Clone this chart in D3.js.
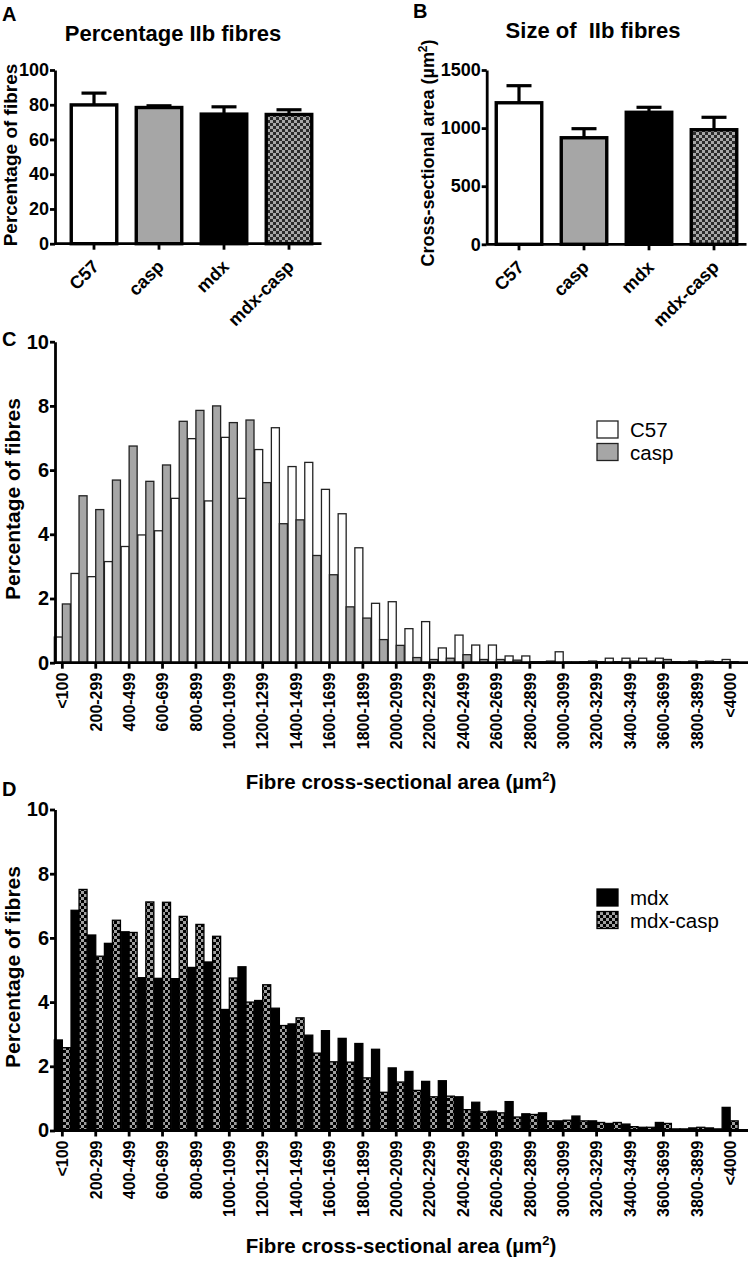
<!DOCTYPE html>
<html><head><meta charset="utf-8">
<script src="https://cdn.jsdelivr.net/npm/d3@7"></script>
<style>
body{margin:0;background:#fff}
svg{display:block}
text{font-family:"Liberation Sans",Arial,Helvetica,sans-serif;white-space:pre}
</style>
</head><body>
<svg id="chart" width="749" height="1262"></svg>
<script>
// ---------- DATA ----------
const groups = ["C57", "casp", "mdx", "mdx-casp"];
const pctMean = [79.9, 78.4, 74.6, 74.4];
const pctSem  = [6.8, 1.0, 4.2, 2.7];
const sizeMean = [1218, 917, 1136, 986];
const sizeSem  = [147, 78, 43, 107];
const pctTicks = [0, 20, 40, 60, 80, 100];
const sizeTicks = [0, 500, 1000, 1500];

const categories = ["<100","100-199","200-299","300-399","400-499","500-599","600-699","700-799","800-899","900-999",
  "1000-1099","1100-1199","1200-1299","1300-1399","1400-1499","1500-1599","1600-1699","1700-1799","1800-1899","1900-1999",
  "2000-2099","2100-2199","2200-2299","2300-2399","2400-2499","2500-2599","2600-2699","2700-2799","2800-2899","2900-2999",
  "3000-3099","3100-3199","3200-3299","3300-3399","3400-3499","3500-3599","3600-3699","3700-3799","3800-3899","3900-3999","<4000"];
const tickLabels = ["<100","200-299","400-499","600-699","800-899","1000-1099","1200-1299","1400-1499","1600-1699","1800-1899",
  "2000-2099","2200-2299","2400-2499","2600-2699","2800-2899","3000-3099","3200-3299","3400-3499","3600-3699","3800-3899","<4000"];
const histTicks = [0, 2, 4, 6, 8, 10];

const c57Hist  = [0.80,2.78,2.68,3.15,3.62,3.98,4.11,5.12,6.98,5.04,7.02,5.12,6.64,7.32,6.11,6.24,5.40,4.64,3.58,1.85,
  1.90,1.06,1.28,0.46,0.86,0.55,0.55,0.21,0.21,0.03,0.34,0.02,0.05,0.14,0.14,0.14,0.14,0.03,0.05,0.05,0.10];
const caspHist = [1.83,5.20,4.77,5.69,6.75,5.65,6.16,7.52,7.86,8.00,7.48,7.56,5.61,4.33,4.45,3.34,2.74,1.74,1.39,0.72,
  0.54,0.16,0.10,0.14,0.25,0.10,0.10,0.08,0.03,0.05,0.02,0.03,0.03,0.03,0.05,0.05,0.10,0.02,0.03,0.03,0.03];
const mdxHist  = [2.82,6.86,6.09,5.83,6.19,4.76,4.74,4.73,5.08,5.25,3.77,5.10,4.05,3.81,3.32,2.97,3.11,2.87,2.71,2.53,
  1.95,1.84,1.53,1.55,1.05,0.88,0.60,0.90,0.52,0.55,0.30,0.45,0.30,0.22,0.20,0.10,0.25,0.05,0.08,0.08,0.72];
const mdxCaspHist = [2.58,7.51,5.43,6.55,6.17,7.12,7.11,6.67,6.42,6.05,4.75,4.00,4.54,3.27,3.51,2.41,2.14,2.13,1.64,1.19,
  1.51,1.25,1.05,1.07,0.65,0.58,0.55,0.42,0.50,0.30,0.32,0.30,0.25,0.25,0.12,0.10,0.22,0.05,0.10,0.05,0.30];

// ---------- SETUP ----------
const svg = d3.select("#chart");
const defs = svg.append("defs");
function checker(id, cell, dark, light){
  const p = defs.append("pattern").attr("id", id).attr("patternUnits","userSpaceOnUse")
    .attr("width", cell*2).attr("height", cell*2);
  p.append("rect").attr("width", cell*2).attr("height", cell*2).attr("fill", dark);
  p.append("rect").attr("width", cell).attr("height", cell).attr("fill", light);
  p.append("rect").attr("x", cell).attr("y", cell).attr("width", cell).attr("height", cell).attr("fill", light);
}
checker("chkAB", 3, "#2b2b2b", "#a8a8a8");
checker("chkD", 3, "#000000", "#a0a0a0");
const groupFill = ["#ffffff", "#a6a6a6", "#000000", "url(#chkAB)"];

function styleAxis(g, w){
  g.selectAll("path").attr("stroke","#000").attr("stroke-width", w);
  g.selectAll("line").attr("stroke","#000").attr("stroke-width", w);
  g.selectAll("text").attr("fill","#000").attr("font-weight","bold");
}

function text(x, y, s, size, weight, anchor){
  return svg.append("text").attr("x", x).attr("y", y).text(s)
    .attr("font-size", size).attr("font-weight", weight || "bold")
    .attr("text-anchor", anchor || "start").attr("fill", "#000");
}

// ---------- BAR PANELS (A, B) ----------
function barPanel(o){
  const y = d3.scaleLinear().domain([0, o.max]).range([o.y0, o.y1]);
  const x = d3.scaleBand().domain(groups).range([o.bx0, o.bx1]).paddingInner(0.3).paddingOuter(0.15);
  const g = svg.append("g");
  g.selectAll("rect.bar").data(groups).join("rect")
    .attr("x", d => x(d)).attr("width", x.bandwidth())
    .attr("y", (d,i) => y(o.mean[i])).attr("height", (d,i) => o.y0 - y(o.mean[i]))
    .attr("fill", (d,i) => groupFill[i]).attr("stroke", "#000").attr("stroke-width", 3.4);
  g.selectAll("line.err").data(groups).join("line")
    .attr("x1", d => x(d) + x.bandwidth()/2).attr("x2", d => x(d) + x.bandwidth()/2)
    .attr("y1", (d,i) => y(o.mean[i])).attr("y2", (d,i) => y(o.mean[i] + o.sem[i]))
    .attr("stroke","#000").attr("stroke-width", 3.2);
  g.selectAll("line.cap").data(groups).join("line")
    .attr("x1", d => x(d) + x.bandwidth()/2 - 12.5).attr("x2", d => x(d) + x.bandwidth()/2 + 12.5)
    .attr("y1", (d,i) => y(o.mean[i] + o.sem[i])).attr("y2", (d,i) => y(o.mean[i] + o.sem[i]))
    .attr("stroke","#000").attr("stroke-width", 3.2);
  const ya = svg.append("g").attr("transform", `translate(${o.ax},0)`)
    .call(d3.axisLeft(y).tickValues(o.ticks).tickFormat(d3.format("d")).tickSize(5).tickSizeOuter(0).tickPadding(1));
  styleAxis(ya, 2.8);
  ya.selectAll("text").attr("font-size", 18);
  const xa = svg.append("g").attr("transform", `translate(0,${o.y0})`)
    .call(d3.axisBottom(x).tickSize(6).tickSizeOuter(0));
  xa.select("path.domain").remove();
  svg.append("line").attr("x1", o.ax).attr("x2", o.bx1).attr("y1", o.y0).attr("y2", o.y0)
    .attr("stroke","#000").attr("stroke-width", 2.8);
  styleAxis(xa, 2.8);
  xa.selectAll("text").attr("font-size", 18).attr("text-anchor","end")
    .attr("y", 0).attr("x", 0).attr("dy", 0)
    .attr("transform", "translate(6,24) rotate(-45)");
  text(o.titleX, o.titleY, o.title, 22, "bold", "middle");
  const yl = svg.append("text").attr("transform", `translate(${o.ylX},${o.ylY}) rotate(-90)`)
    .attr("text-anchor","middle").attr("font-size", o.ylSize).attr("font-weight","bold");
  yl.append("tspan").text(o.ylabel);
  if (o.sup){
    yl.append("tspan").text("2").attr("font-size", 12).attr("dy", -7);
    yl.append("tspan").text(")").attr("dy", 7);
  }
  text(o.letterX, o.letterY, o.letter, 20, "bold");
}

barPanel({max:100, ticks:pctTicks, mean:pctMean, sem:pctSem, y0:243.7, y1:70, ax:55, bx0:61.5, bx1:321.5,
  title:"Percentage IIb fibres", titleX:173, titleY:41, ylabel:"Percentage of fibres", ylSize:19, ylX:17, ylY:155,
  letter:"A", letterX:2, letterY:21});
barPanel({max:1500, ticks:sizeTicks, mean:sizeMean, sem:sizeSem, y0:244.3, y1:70, ax:486.7, bx0:486.5, bx1:746.5,
  title:"Size of  IIb fibres", titleX:593, titleY:38, ylabel:"Cross-sectional area (\u00b5m", sup:true, ylSize:18, ylX:434, ylY:153,
  letter:"B", letterX:413, letterY:18});

// ---------- HISTOGRAM PANELS (C, D) ----------
function histPanel(o){
  const y = d3.scaleLinear().domain([0, 10]).range([o.y0, o.y0 - 321]);
  const x = d3.scaleBand().domain(categories).range([54, 738.5]).paddingInner(0.04).paddingOuter(0.02);
  const xs = d3.scaleBand().domain([0,1]).range([0, x.bandwidth()]);
  const g = svg.append("g");
  o.series.forEach((s, si) => {
    g.selectAll(null).data(categories).join("rect")
      .attr("x", (d) => x(d) + xs(si)).attr("width", xs.bandwidth())
      .attr("y", (d,i) => y(s[i])).attr("height", (d,i) => o.y0 - y(s[i]))
      .attr("fill", o.fills[si]).attr("stroke", o.strokes[si]).attr("stroke-width", 1.3);
  });
  const ya = svg.append("g").attr("transform", `translate(55,0)`)
    .call(d3.axisLeft(y).tickValues(histTicks).tickSize(5).tickSizeOuter(0).tickPadding(1));
  styleAxis(ya, 2.8);
  ya.selectAll("text").attr("font-size", 20);
  const xa = svg.append("g").attr("transform", `translate(0,${o.y0})`)
    .call(d3.axisBottom(x).tickValues(categories.filter(c => tickLabels.includes(c))).tickSize(6).tickSizeOuter(0));
  xa.select("path.domain").remove();
  svg.append("line").attr("x1", 55).attr("x2", 748).attr("y1", o.y0).attr("y2", o.y0)
    .attr("stroke","#000").attr("stroke-width", 2.8);
  styleAxis(xa, 2.8);
  xa.selectAll("text").attr("font-size", 16).attr("text-anchor","end")
    .attr("y", 0).attr("x", 0).attr("dy", "0.36em")
    .attr("transform", "translate(0,10) rotate(-90)");
  svg.append("text").attr("transform", `translate(20,${o.ylY}) rotate(-90)`)
    .attr("text-anchor","middle").attr("font-size", 21).attr("font-weight","bold").text("Percentage of fibres");
  const xt = svg.append("text").attr("x", 401).attr("y", o.xtY).attr("text-anchor","middle")
    .attr("font-size", 20.5).attr("font-weight","bold");
  xt.append("tspan").text("Fibre cross-sectional area (\u00b5m");
  xt.append("tspan").text("2").attr("font-size", 13).attr("dy", -8);
  xt.append("tspan").text(")").attr("dy", 8);
  text(2, o.letterY, o.letter, 20, "bold");
  o.legend.forEach((name, i) => {
    svg.append("rect").attr("x", 597).attr("y", o.legY + i*22.5).attr("width", 21).attr("height", 17)
      .attr("fill", o.fills[i]).attr("stroke", o.strokes[i]).attr("stroke-width", 1.3);
    text(630, o.legY + i*22.5 + 16, name, 20.5, "normal");
  });
}

histPanel({y0:662.7, series:[c57Hist, caspHist], fills:["#ffffff","#a6a6a6"], strokes:["#222","#222"],
  ylY:499, xtY:789, letter:"C", letterY:346, legend:["C57","casp"], legY:421});
histPanel({y0:1130.5, series:[mdxHist, mdxCaspHist], fills:["#000000","url(#chkD)"], strokes:["#000","#000"],
  ylY:967, xtY:1253, letter:"D", letterY:796, legend:["mdx","mdx-casp"], legY:889});
</script>
</body></html>
